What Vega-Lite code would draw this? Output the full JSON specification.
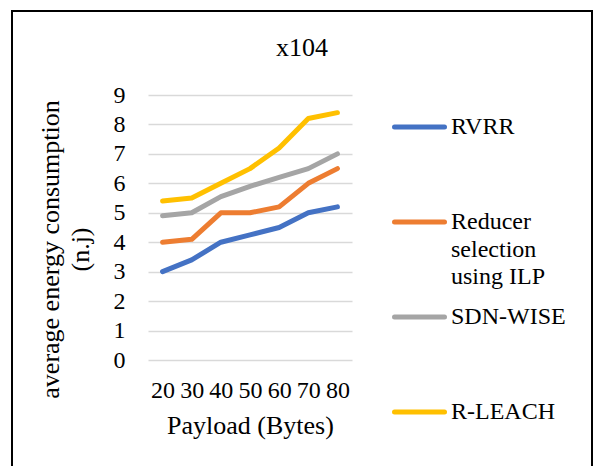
{
  "$schema": "https://vega.github.io/schema/vega-lite/v6.json",
  "width": 580,
  "height": 460,
  "autosize": {"type": "none"},
  "padding": {"left": 12, "top": 11, "right": 2, "bottom": 0},
  "background": "white",
  "title": {"text": "x104", "font": "Liberation Serif", "fontSize": 26, "fontWeight": "normal", "color": "#000000", "anchor": "middle", "frame": "group", "baseline": "alphabetic", "offset": -71},
  "data": {"values": [
    {"series": "RVRR", "payload": 20, "energy": 3.0},
    {"series": "RVRR", "payload": 30, "energy": 3.4},
    {"series": "RVRR", "payload": 40, "energy": 4.0},
    {"series": "RVRR", "payload": 50, "energy": 4.25},
    {"series": "RVRR", "payload": 60, "energy": 4.5},
    {"series": "RVRR", "payload": 70, "energy": 5.0},
    {"series": "RVRR", "payload": 80, "energy": 5.2},
    {"series": "Reducer selection using ILP", "payload": 20, "energy": 4.0},
    {"series": "Reducer selection using ILP", "payload": 30, "energy": 4.1},
    {"series": "Reducer selection using ILP", "payload": 40, "energy": 5.0},
    {"series": "Reducer selection using ILP", "payload": 50, "energy": 5.0},
    {"series": "Reducer selection using ILP", "payload": 60, "energy": 5.2},
    {"series": "Reducer selection using ILP", "payload": 70, "energy": 6.0},
    {"series": "Reducer selection using ILP", "payload": 80, "energy": 6.5},
    {"series": "SDN-WISE", "payload": 20, "energy": 4.9},
    {"series": "SDN-WISE", "payload": 30, "energy": 5.0},
    {"series": "SDN-WISE", "payload": 40, "energy": 5.55},
    {"series": "SDN-WISE", "payload": 50, "energy": 5.9},
    {"series": "SDN-WISE", "payload": 60, "energy": 6.2},
    {"series": "SDN-WISE", "payload": 70, "energy": 6.5},
    {"series": "SDN-WISE", "payload": 80, "energy": 7.0},
    {"series": "R-LEACH", "payload": 20, "energy": 5.4},
    {"series": "R-LEACH", "payload": 30, "energy": 5.5},
    {"series": "R-LEACH", "payload": 40, "energy": 6.0},
    {"series": "R-LEACH", "payload": 50, "energy": 6.5},
    {"series": "R-LEACH", "payload": 60, "energy": 7.2},
    {"series": "R-LEACH", "payload": 70, "energy": 8.2},
    {"series": "R-LEACH", "payload": 80, "energy": 8.4}
  ]},
  "mark": {"type": "line", "strokeWidth": 5, "strokeCap": "round", "strokeJoin": "round"},
  "encoding": {
    "x": {
      "field": "payload", "type": "ordinal",
      "scale": {"type": "point", "range": [136, 340], "padding": 0.5},
      "axis": {"orient": "bottom", "offset": -111, "domain": false, "ticks": false, "grid": false, "labelAngle": 0, "labelOverlap": false,
        "labelFont": "Liberation Serif", "labelFontSize": 24, "labelColor": "#000000", "labelPadding": 18,
        "title": "Payload (Bytes)", "titleFont": "Liberation Serif", "titleFontSize": 26, "titleFontWeight": "normal", "titleColor": "#000000", "titlePadding": 10}
    },
    "y": {
      "field": "energy", "type": "quantitative",
      "scale": {"domain": [0, 9], "range": [349, 84], "nice": false, "zero": true},
      "axis": {"orient": "left", "offset": -136, "domain": false, "ticks": false, "grid": true, "gridColor": "#d9d9d9", "gridWidth": 1.3,
        "values": [0, 1, 2, 3, 4, 5, 6, 7, 8, 9],
        "labelFont": "Liberation Serif", "labelFontSize": 24, "labelColor": "#000000", "labelPadding": 23,
        "title": ["average energy consumption", "(n.j)"], "titleFont": "Liberation Serif", "titleFontSize": 26, "titleFontWeight": "normal", "titleColor": "#000000", "titleLineHeight": 30, "titleX": -85, "titleY": 238}
    },
    "color": {
      "field": "series", "type": "nominal",
      "scale": {"domain": ["RVRR", "Reducer selection using ILP", "SDN-WISE", "R-LEACH"], "range": ["#4472C4", "#ED7D31", "#A5A5A5", "#FFC000"]},
      "legend": {"title": null, "orient": "none", "legendX": 380, "legendY": 88.5, "padding": 0,
        "symbolType": "stroke", "symbolSize": 2500, "symbolStrokeWidth": 5,
        "labelFont": "Liberation Serif", "labelFontSize": 24, "labelColor": "#000000", "labelBaseline": "alphabetic", "labelLimit": 200, "labelOffset": 4,
        "rowPadding": 0,
        "labelExpr": "datum.label == 'Reducer selection using ILP' ? ['Reducer', 'selection', 'using ILP'] : [datum.label, '', '']",
        "encode": {"labels": {"update": {"dy": {"value": 7}, "lineHeight": {"value": 27.5}}}, "symbols": {"update": {"strokeCap": {"value": "round"}}}}}
    }
  },
  "config": {
    "font": "Liberation Serif",
    "view": {"stroke": "#000000", "strokeWidth": 2, "fill": "white"}
  }
}
